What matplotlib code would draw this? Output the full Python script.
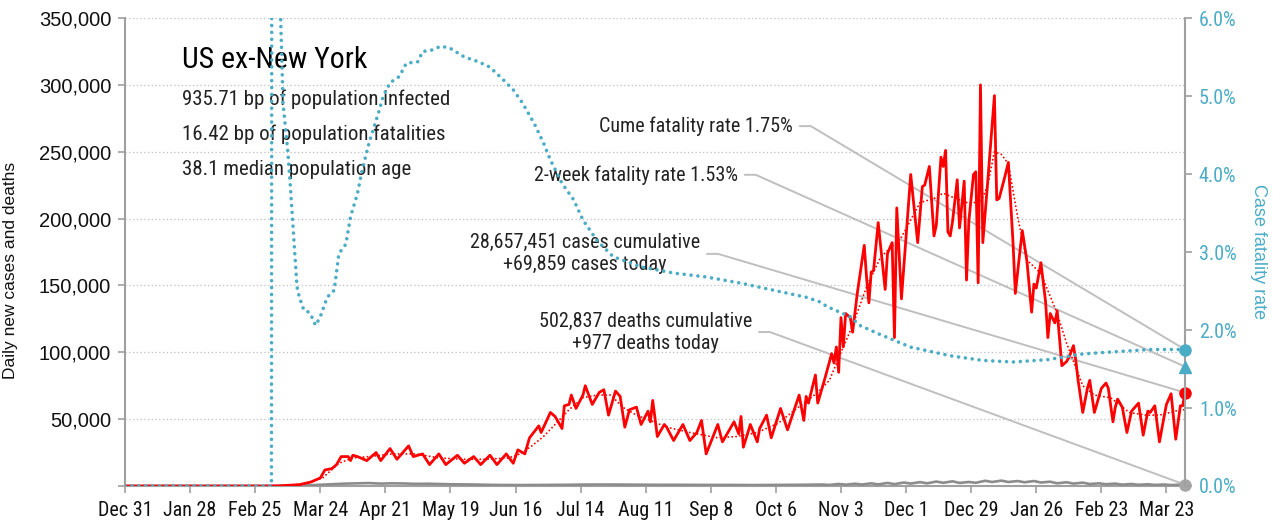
import numpy as np
import pandas as pd
import matplotlib
matplotlib.use('Agg')
import matplotlib.pyplot as plt
import matplotlib.dates as mdates
from matplotlib import font_manager as fm

# ---------------- data ----------------
START = '2019-12-31'
END_DAY = 456

case_days = [0, 60, 66, 70, 75, 80, 84, 86, 89, 91, 93, 96, 97, 98, 100, 104, 108, 110, 114, 117,
             122, 124, 128, 131, 135, 138, 143, 146, 150, 153, 157, 160, 164, 167, 169, 172, 174, 178, 179, 183,
             185, 186, 188, 189, 191, 192, 194, 197, 198, 201, 204, 206, 208, 211, 213, 215, 217, 220, 222, 225,
             226, 227, 229, 232, 233, 236, 240, 243, 246, 248, 250, 255, 257, 259, 262, 264, 265, 266, 269, 272,
             273, 276, 278, 282, 285, 290, 292, 293, 294, 297, 298, 301, 304, 305, 306, 307, 308, 309, 310, 312,
             313, 315, 318, 319, 320, 321, 322, 324, 327, 328, 330, 331, 332, 334, 336, 338, 341, 343, 344, 346,
             348, 349, 351, 352, 353, 354, 355, 356, 358, 359, 361, 362, 363, 365, 366, 367, 368, 369, 371, 374,
             375, 376, 378, 380, 382, 383, 385, 386, 388, 390, 391, 392, 394, 396, 397, 398, 400, 401, 403, 405,
             406, 408, 409, 410, 412, 414, 415, 417, 420, 422, 423, 425, 426, 427, 429, 431, 433, 436, 438, 440,
             441, 443, 445, 447, 448, 450, 452, 454, 455, 456]
case_k = [0, 0, 0.1, 0.5, 1, 3, 6, 12, 13, 16, 22, 22, 19, 23, 22, 19, 25, 19, 28, 20,
          30, 22, 24, 16, 24, 16, 23, 17, 22, 16, 23, 16, 24, 17, 27, 24, 36, 45, 40, 55,
          52, 49, 43, 60, 61, 68, 58, 68, 75, 61, 70, 72, 53, 71, 67, 44, 57, 59, 46, 56,
          48, 64, 37, 46, 44, 34, 46, 34, 40, 49, 24, 46, 33, 39, 48, 39, 52, 29, 46, 33,
          43, 53, 36, 58, 42, 68, 49, 67, 62, 83, 62, 80, 99, 92, 104, 85, 126, 104, 129, 126,
          115, 144, 180, 156, 137, 160, 161, 197, 147, 174, 182, 111, 208, 140, 187, 233, 182, 224, 225, 239,
          187, 195, 246, 239, 251, 190, 187, 198, 229, 193, 228, 154, 198, 233, 235, 152, 300, 182, 225, 292,
          214, 215, 228, 242, 182, 144, 176, 191, 168, 130, 151, 148, 167, 138, 111, 129, 122, 131, 90, 93,
          96, 105, 94, 79, 55, 73, 79, 55, 73, 77, 73, 48, 59, 65, 59, 40, 56, 62, 38, 56,
          55, 60, 33, 52, 61, 69, 35, 60, 60, 70]

avg_days = [0, 60, 70, 78, 85, 92, 98, 105, 115, 125, 135, 145, 155, 165, 170, 175, 180, 185, 191, 197,
            203, 209, 214, 220, 226, 233, 243, 255, 263, 272, 281, 289, 298, 303, 309, 313, 319, 325, 334, 342,
            348, 352, 356, 362, 368, 371, 374, 377, 380, 384, 388, 394, 401, 405, 412, 417, 424, 432, 439, 445,
            454, 456]
avg_k = [0, 0, 0.3, 2, 6, 17, 21, 22, 24, 24, 21, 20, 20, 21, 24, 30, 37, 46, 57, 66,
         68, 68, 59, 53, 49, 44, 40, 36, 37, 40, 47, 58, 70, 79, 104, 120, 149, 171, 186, 212,
         215, 219, 216, 212, 212, 224, 250, 248, 241, 201, 169, 159, 129, 107, 75, 68, 66, 55, 53, 53,
         57, 57]

death_days = [0, 60, 75, 85, 95, 100, 105, 110, 115, 120, 125, 130, 140, 150, 160, 170, 180, 190, 200, 210,
              220, 230, 240, 250, 260, 270, 280, 290, 300, 303, 307, 310, 314, 317, 321, 324, 328, 331, 335, 338,
              342, 345, 349, 352, 356, 359, 363, 366, 370, 373, 377, 380, 384, 387, 391, 394, 398, 401, 405, 408,
              412, 415, 419, 422, 426, 429, 433, 436, 440, 443, 447, 450, 454, 456]
death_k = [0, 0, 0.2, 1.0, 1.8, 2.0, 2.2, 1.8, 2.0, 1.9, 1.6, 1.7, 1.3, 1.1, 0.8, 0.7, 0.8, 0.9, 1.1, 1.1,
           1.0, 0.9, 0.9, 0.8, 0.8, 0.7, 0.8, 0.9, 1.1, 0.8, 1.5, 1.0, 1.7, 1.1, 2.0, 1.2, 2.3, 1.4, 2.6, 1.8,
           2.9, 2.0, 3.3, 2.4, 3.5, 2.3, 3.0, 2.4, 3.9, 3.0, 4.0, 3.0, 3.7, 2.8, 3.7, 2.6, 3.2, 2.0, 2.8, 1.8,
           2.5, 1.5, 2.0, 1.3, 1.8, 1.0, 1.5, 0.9, 1.3, 0.8, 1.1, 0.7, 1.0, 0.98]

cfr_days = [0, 63, 64, 66, 68, 70, 71, 72, 73, 74, 75, 77, 79, 80, 82, 84, 87, 90, 92, 95,
            97, 100, 102, 105, 109, 111, 114, 118, 121, 126, 128, 132, 136, 140, 146, 152, 157, 163, 167, 171,
            176, 180, 183, 188, 193, 197, 203, 210, 222, 236, 250, 265, 279, 293, 299, 302, 312, 316, 325, 338,
            355, 369, 382, 397, 411, 420, 441, 456]
cfr_pct = [0, 0, 50, 7.0, 4.9, 4.3, 3.9, 3.45, 3.0, 2.55, 2.42, 2.25, 2.23, 2.19, 2.06, 2.17, 2.42, 2.51, 2.98, 3.1,
           3.45, 3.75, 4.05, 4.4, 4.78, 4.99, 5.17, 5.25, 5.42, 5.44, 5.57, 5.59, 5.64, 5.61, 5.5, 5.44, 5.37, 5.2, 5.08, 4.91,
           4.65, 4.4, 4.18, 3.88, 3.67, 3.41, 3.15, 2.94, 2.81, 2.73, 2.68, 2.6, 2.51, 2.42, 2.36, 2.3, 2.17, 2.06, 1.94, 1.78,
           1.67, 1.61, 1.59, 1.62, 1.69, 1.71, 1.75, 1.75]

x_tick_labels = ["Dec 31", "Jan 28", "Feb 25", "Mar 24", "Apr 21", "May 19", "Jun 16", "Jul 14", "Aug 11",
                 "Sep 8", "Oct 6", "Nov 3", "Dec 1", "Dec 29", "Jan 26", "Feb 23", "Mar 23"]
left_ticks = [0, 50000, 100000, 150000, 200000, 250000, 300000, 350000]
right_ticks = [0, 1, 2, 3, 4, 5, 6]

title = "US ex-New York"
stats_lines = ["935.71 bp of population infected",
               "16.42 bp of population fatalities",
               "38.1 median population age"]
cume_cfr = 1.75
two_week_cfr = 1.53
cases_cum = 28657451
cases_today = 69859
deaths_cum = 502837
deaths_today = 977

# ---------------- fonts ----------------
names = {f.name for f in fm.fontManager.ttflist}
NARROW = None
for cand in ['Liberation Sans Narrow', 'Roboto Condensed', 'Open Sans Condensed']:
    if cand in names:
        NARROW = cand
        break
if NARROW is None:
    NARROW = 'Liberation Sans'
REG = 'Liberation Sans' if 'Liberation Sans' in names else 'DejaVu Sans'

TEAL = '#4bacc6'
RED = '#ff0000'
GRAY = '#a0a0a0'
DGRAY = '#8c8c8c'
LINEGRAY = '#bfbfbf'

# ---------------- figure ----------------
fig = plt.figure(figsize=(12.73, 5.27), dpi=100)
ax = fig.add_axes([0.0982, 0.0778, 0.8327, 0.888])
ax2 = ax.twinx()

t0 = pd.Timestamp(START)
end = t0 + pd.Timedelta(days=END_DAY)
to_dates = lambda d: t0 + pd.to_timedelta(np.array(d), unit='D')

ax.plot(to_dates(death_days), np.array(death_k) * 1000, color=DGRAY, lw=1.9, zorder=3)
ax.plot(to_dates(avg_days), np.array(avg_k) * 1000, color=RED, lw=1.4,
        linestyle=(0, (0.01, 2.0)), dash_capstyle='round', zorder=4)
ax.plot(to_dates(case_days), np.array(case_k) * 1000, color=RED, lw=2.0, zorder=5)

ax2.plot(to_dates(cfr_days), cfr_pct, color=TEAL, lw=2.6,
         linestyle=(0, (0.01, 1.9)), dash_capstyle='round', zorder=4)

# end markers
ax.plot([end], [cases_today], 'o', ms=8, color=RED, clip_on=False, zorder=7)
ax.plot([end], [deaths_today], 'o', ms=8, color='#a6a6a6', clip_on=False, zorder=7)
ax2.plot([end], [cume_cfr], 'o', ms=8, color=TEAL, clip_on=False, zorder=7)
ax2.plot([end], [two_week_cfr], '^', ms=9, color=TEAL, clip_on=False, zorder=7)

# axes styling
ax.set_xlim(t0, end)
ax.set_ylim(0, 350000)
ax2.set_ylim(0, 6)

ax.set_xticks(pd.date_range(t0, periods=len(x_tick_labels), freq='28D'))
ax.set_xticklabels(x_tick_labels, fontfamily=NARROW, fontsize=14.5)
ax.set_yticks(left_ticks)
ax.set_yticklabels(['' if v == 0 else f'{v:,}' for v in left_ticks], fontfamily=REG, fontsize=14.5)
ax2.set_yticks(right_ticks)
ax2.set_yticklabels([f'{v:.1f}%' for v in right_ticks], fontfamily=NARROW, fontsize=14.5, color=TEAL)

for a in (ax, ax2):
    for s in a.spines.values():
        s.set_color(GRAY)
        s.set_linewidth(1.5)
    a.spines['top'].set_visible(False)
ax.spines['right'].set_visible(False)
ax2.spines['left'].set_visible(False)
ax2.spines['bottom'].set_visible(False)

ax.tick_params(axis='x', direction='out', length=5, width=1.2, color=GRAY, pad=6, labelcolor='#111111')
ax.tick_params(axis='y', direction='out', length=5, width=1.2, color=GRAY, pad=5, labelcolor='#111111')
ax2.tick_params(axis='y', direction='out', length=5, width=1.2, color=GRAY, pad=5)

ax.grid(axis='y', color=LINEGRAY, lw=0.9, linestyle=(0, (1, 2)))
ax.set_axisbelow(True)

ax.set_ylabel('Daily new cases and deaths', fontfamily=REG, fontsize=12.5, color='#111111')
ax.yaxis.set_label_coords(-0.101, 0.46)
ax2.set_ylabel('Case fatality rate', fontfamily=REG, fontsize=13, color=TEAL, rotation=-90, va='center')
ax2.yaxis.set_label_coords(1.069, 0.5)

# title and stats
ax.text(0.0538, 0.893, title, transform=ax.transAxes, fontfamily=NARROW, fontsize=21.5,
        color='black', va='baseline', ha='left')
for i, line in enumerate(stats_lines):
    ax.text(0.0538, 0.814 - i * 0.0745, line, transform=ax.transAxes, fontfamily=NARROW,
            fontsize=15, color='#222222', va='baseline', ha='left')

# annotations
conn = dict(arrowstyle='-', color=LINEGRAY, lw=1.4, relpos=(1, 0.5), shrinkA=3, shrinkB=0,
            connectionstyle='arc,angleA=0,angleB=0,armA=18,armB=0,rad=0')
endn = mdates.date2num(end)
ann_kw = dict(textcoords='axes fraction', ha='right', va='center', fontfamily=NARROW,
              fontsize=14.5, color='#222222', arrowprops=conn, zorder=2, multialignment='center',
              annotation_clip=False)
ax.annotate(f'Cume fatality rate {cume_cfr:.2f}%', xy=(endn, cume_cfr), xycoords=ax2.transData,
            xytext=(0.630, 0.769), **ann_kw)
ax.annotate(f'2-week fatality rate {two_week_cfr:.2f}%', xy=(endn, two_week_cfr), xycoords=ax2.transData,
            xytext=(0.578, 0.665), **ann_kw)
ax.annotate(f'{cases_cum:,} cases cumulative\n+{cases_today:,} cases today', xy=(endn, cases_today),
            xycoords='data', xytext=(0.5425, 0.496), **ann_kw)
ax.annotate(f'{deaths_cum:,} deaths cumulative\n+{deaths_today:,} deaths today', xy=(endn, deaths_today),
            xycoords='data', xytext=(0.5915, 0.329), **ann_kw)

fig.savefig('out.png', dpi=100)
